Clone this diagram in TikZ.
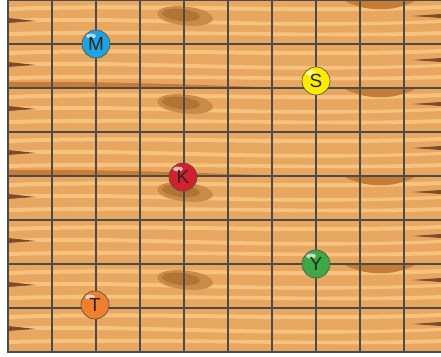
\documentclass[tikz,border=0pt]{standalone}
\usepackage{fontspec}
\setsansfont{Liberation Sans}
\usetikzlibrary{positioning}
\definecolor{woodbase}{HTML}{E8A760}
\definecolor{woodlight}{HTML}{F6C27E}
\definecolor{wooddark}{HTML}{C47C36}
\definecolor{woodnotch}{HTML}{7E4B2B}
\definecolor{knotout}{HTML}{C98B48}
\definecolor{knotin}{HTML}{B27434}
\definecolor{gridline}{HTML}{4B4B4B}
\definecolor{ballM}{HTML}{1CA3E0}
\definecolor{ballS}{HTML}{FFEC00}
\definecolor{ballK}{HTML}{D4202E}
\definecolor{ballY}{HTML}{3DA946}
\definecolor{ballT}{HTML}{F07F2E}
\tikzset{
  ball/.style={circle, draw=black!70, line width=0.6pt, minimum size=28pt,
    inner sep=0pt, text=black!85,
    font=\sffamily\fontsize{19}{19}\selectfont,
    path picture={\fill[white, opacity=0.65]
      ([xshift=-5pt, yshift=8pt]path picture bounding box.center)
      ellipse (5pt and 2.5pt);}},
  gridrule/.style={gridline, line width=1.8pt},
}

\begin{document}
\begin{tikzpicture}[x=1pt, y=-1pt]
  \useasboundingbox (0, 0) rectangle (441, 356);
  % planks
  \fill[woodbase] (8, 0) rectangle (441, 353);
  \foreach \i in {0,...,7}{
    \pgfmathsetmacro{\y}{44*\i}
    \fill[woodlight] (8, \y+7) .. controls (150, \y+2) and (300, \y+11) .. (441, \y+5)
      -- (441, \y+9) .. controls (300, \y+15) and (150, \y+6) .. (8, \y+11) -- cycle;
    \fill[woodlight] (8, \y+19) .. controls (120, \y+14) and (260, \y+27) .. (441, \y+20)
      -- (441, \y+23) .. controls (260, \y+31) and (120, \y+18) .. (8, \y+23) -- cycle;
    \fill[woodlight] (8, \y+32) .. controls (170, \y+28) and (320, \y+36) .. (441, \y+31)
      -- (441, \y+35) .. controls (320, \y+39) and (170, \y+32) .. (8, \y+36) -- cycle;
    % notches at both ends
    \fill[woodnotch] (8, \y+18) -- (36, \y+21) -- (8, \y+23) -- cycle;
    \fill[woodnotch] (441, \y+14) -- (412, \y+16) -- (441, \y+18) -- cycle;
  }
  % knots
  \foreach \y in {0, 88, 176, 264}{
    \fill[knotout, rotate around={-6:(185, \y+16)}] (185, \y+16) ellipse (28pt and 9.5pt);
    \fill[knotin, rotate around={-6:(181, \y+15)}] (181, \y+15) ellipse (19pt and 6pt);
    \fill[wooddark] (345, \y+1) .. controls (365, \y+12) and (395, \y+12) .. (415, \y+1) -- cycle;
  }
  \foreach \y in {88, 176}
    \fill[wooddark] (8, \y-6) .. controls (100, \y-7) and (200, \y-3) .. (260, \y-1)
      -- (8, \y-1) -- cycle;
  % grid
  \foreach \c in {0,...,9}
    \draw[gridrule] (8+44*\c, 0) -- (8+44*\c, 353);
  \foreach \r in {0,...,8}
    \draw[gridrule] (8, 44*\r) -- (441, 44*\r);
  % balls
  \node[ball, fill=ballM] (m) at (96, 44) {M};
  \node[ball, fill=ballS] (s) at (316, 81) {S};
  \node[ball, fill=ballK] (k) at (183, 177) {K};
  \node[ball, fill=ballY] (y) at (316, 264) {Y};
  \node[ball, fill=ballT] (t) at (95, 305) {T};
\end{tikzpicture}
\end{document}
